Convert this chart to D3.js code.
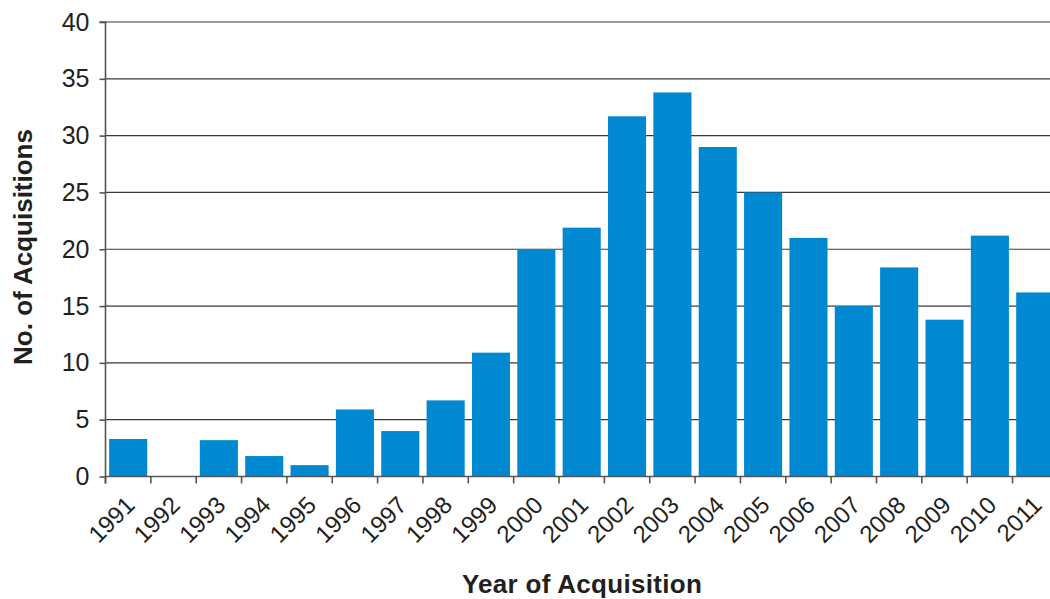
<!DOCTYPE html>
<html><head><meta charset="utf-8">
<script src="https://cdn.jsdelivr.net/npm/d3@7"></script>
<style>body{margin:0;background:#fff}svg{display:block}text{font-family:"Liberation Sans",Arial,sans-serif;fill:#231f20}</style>
</head><body>
<svg id="c" width="1050" height="599"></svg>
<script>
const years = ["1991","1992","1993","1994","1995","1996","1997","1998","1999","2000","2001","2002","2003","2004","2005","2006","2007","2008","2009","2010","2011"];
const acquisitions = [3.3,0,3.2,1.8,1.0,5.9,4.0,6.7,10.9,20.0,21.9,31.7,33.8,29.0,25.0,21.0,15.0,18.4,13.8,21.2,16.2];
const yTicks = [0,5,10,15,20,25,30,35,40];

const svg = d3.select("#c");
const L = 105.5, R = 1057.9, T = 22, B = 476.5;
const x = d3.scaleBand().domain(years).range([L, R]).paddingInner(0.16).paddingOuter(0.08);
const y = d3.scaleLinear().domain([0, 40]).range([B, T]);

// gridlines
svg.append("g").selectAll("line").data(yTicks.filter(d => d > 0)).join("line")
  .attr("x1", L).attr("x2", 1050).attr("y1", d => y(d)).attr("y2", d => y(d))
  .attr("stroke", "#3a3a3a").attr("stroke-width", 1.2);

// bars
svg.append("g").selectAll("rect").data(years).join("rect")
  .attr("x", d => x(d)).attr("width", x.bandwidth())
  .attr("y", (d, i) => y(acquisitions[i])).attr("height", (d, i) => B - y(acquisitions[i]))
  .attr("fill", "#0089d0");

// y axis
const yAxis = svg.append("g").attr("transform", `translate(${L},0)`)
  .call(d3.axisLeft(y).tickValues(yTicks).tickSize(6).tickPadding(10));
yAxis.select(".domain").attr("stroke", "#555").attr("stroke-width", 1.6).attr("d", `M-6,${y(40)}H0V${B+7}`);
yAxis.selectAll(".tick line").attr("stroke", "#555").attr("stroke-width", 1.6);
yAxis.selectAll(".tick text").style("font-size", "25px").attr("fill", "#231f20");

// x axis line + ticks at band boundaries
const step = x.step();
const bounds = years.map((d, i) => L + i * step);
svg.append("line").attr("x1", L).attr("x2", 1050).attr("y1", B).attr("y2", B).attr("stroke", "#555").attr("stroke-width", 1.6);
svg.append("g").selectAll("line").data(bounds).join("line")
  .attr("x1", d => d).attr("x2", d => d).attr("y1", B).attr("y2", B + 7)
  .attr("stroke", "#555").attr("stroke-width", 1.6);

// x labels
svg.append("g").selectAll("text").data(years).join("text")
  .attr("transform", d => `translate(${x(d) + x.bandwidth()/2 + 8},${B + 30}) rotate(-45)`)
  .attr("text-anchor", "end")
  .style("font-size", "24px").text(d => d);

// axis titles
svg.append("text").attr("x", 582).attr("y", 593).attr("text-anchor", "middle")
  .style("font-size", "26px").style("font-weight", "bold").style("letter-spacing", "0.3px").text("Year of Acquisition");
svg.append("text").attr("transform", `translate(32,247) rotate(-90)`).attr("text-anchor", "middle")
  .style("font-size", "26px").style("font-weight", "bold").text("No. of Acquisitions");
</script>
</body></html>
